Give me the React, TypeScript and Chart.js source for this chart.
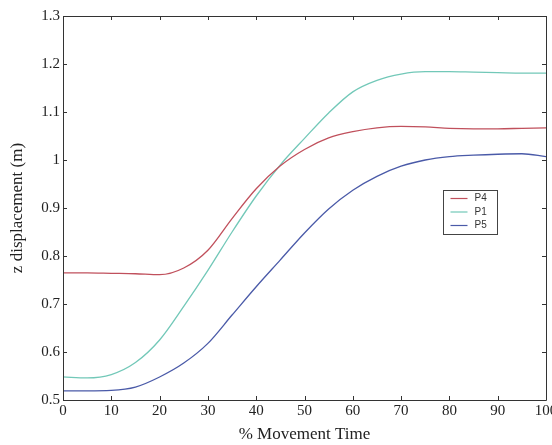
import React, { useEffect, useRef } from "react";
import { Chart, registerables } from "chart.js";

Chart.register(...registerables);

const timePct = [0, 5, 10, 15, 20, 25, 30, 35, 40, 45, 50, 55, 60, 65, 70, 75, 80, 85, 90, 95, 100];
const p4 = [0.765, 0.765, 0.764, 0.763, 0.761, 0.775, 0.812, 0.878, 0.94, 0.988, 1.022, 1.046, 1.059, 1.067, 1.07, 1.069, 1.066, 1.065, 1.065, 1.066, 1.067];
const p1 = [0.548, 0.546, 0.553, 0.578, 0.625, 0.695, 0.77, 0.85, 0.925, 0.99, 1.045, 1.098, 1.142, 1.166, 1.179, 1.184, 1.184, 1.183, 1.182, 1.181, 1.181];
const p5 = [0.519, 0.519, 0.52, 0.527, 0.548, 0.577, 0.618, 0.677, 0.736, 0.792, 0.848, 0.898, 0.937, 0.966, 0.987, 1.0, 1.007, 1.01, 1.012, 1.013, 1.007];
const seriesLabels = ["P4", "P1", "P5"];
const seriesColors = ["#c0505c", "#72c8b8", "#4a5aa8"];
const xTicks = [0, 10, 20, 30, 40, 50, 60, 70, 80, 90, 100];
const yTicks = [0.5, 0.6, 0.7, 0.8, 0.9, 1.0, 1.1, 1.2, 1.3];
const yTickLabels = ["0.5", "0.6", "0.7", "0.8", "0.9", "1", "1.1", "1.2", "1.3"];

const SERIF = "'Liberation Serif', 'Times New Roman', serif";

const boxPlugin = {
  id: "matlabBox",
  afterDatasetsDraw(chart: any) {
    const { ctx, chartArea: a, scales } = chart;
    const xs = scales.x;
    const ys = scales.y;
    ctx.save();
    ctx.strokeStyle = "#333";
    ctx.lineWidth = 1;
    ctx.beginPath();
    ctx.rect(Math.round(a.left) + 0.5, Math.round(a.top) + 0.5, Math.round(a.right - a.left), Math.round(a.bottom - a.top));
    ctx.stroke();
    const tl = 4;
    ctx.beginPath();
    xTicks.forEach((v) => {
      const px = Math.round(xs.getPixelForValue(v)) + 0.5;
      ctx.moveTo(px, a.bottom);
      ctx.lineTo(px, a.bottom - tl);
      ctx.moveTo(px, a.top);
      ctx.lineTo(px, a.top + tl);
    });
    yTicks.forEach((v) => {
      const py = Math.round(ys.getPixelForValue(v)) + 0.5;
      ctx.moveTo(a.left, py);
      ctx.lineTo(a.left + tl, py);
      ctx.moveTo(a.right, py);
      ctx.lineTo(a.right - tl, py);
    });
    ctx.stroke();

    // legend
    const lx = 443.5, ly = 190.5, lw = 54, lh = 44;
    ctx.fillStyle = "#fff";
    ctx.fillRect(lx, ly, lw, lh);
    ctx.strokeStyle = "#444";
    ctx.strokeRect(lx, ly, lw, lh);
    ctx.font = "10px 'Liberation Sans', Arial, sans-serif";
    ctx.textBaseline = "middle";
    chart.data.datasets.forEach((ds: any, i: number) => {
      const y = ly + 8 + i * 13.5;
      ctx.strokeStyle = ds.borderColor;
      ctx.lineWidth = 1.2;
      ctx.beginPath();
      ctx.moveTo(lx + 7, y);
      ctx.lineTo(lx + 24, y);
      ctx.stroke();
      ctx.fillStyle = "#333";
      ctx.fillText(ds.label, lx + 31, y);
    });
    ctx.restore();
  },
};

export default function App() {
  const ref = useRef<HTMLCanvasElement | null>(null);
  useEffect(() => {
    document.body.style.margin = "0";
    const mk = (vals: number[]) => timePct.map((t, i) => ({ x: t, y: vals[i] }));
    const all = [p4, p1, p5];
    const chart = new Chart(ref.current as HTMLCanvasElement, {
      type: "line",
      data: {
        datasets: all.map((vals, i) => ({
          label: seriesLabels[i],
          data: mk(vals),
          borderColor: seriesColors[i],
          backgroundColor: seriesColors[i],
          borderWidth: 1.3,
          pointRadius: 0,
          cubicInterpolationMode: "monotone" as const,
          fill: false,
        })),
      },
      options: {
        responsive: false,
        animation: false,
        layout: { padding: { top: 16, right: 6, left: 0, bottom: 0 } },
        plugins: { legend: { display: false }, tooltip: { enabled: false } },
        scales: {
          x: {
            type: "linear",
            min: 0,
            max: 100,
            afterBuildTicks: (s: any) => {
              s.ticks = xTicks.map((v) => ({ value: v }));
            },
            afterFit: (s: any) => {
              s.height = 45;
              s.paddingLeft = 0;
              s.paddingRight = 0;
            },
            grid: { display: false, drawTicks: false },
            border: { display: false },
            ticks: {
              color: "#222",
              font: { family: SERIF, size: 15 },
              padding: 2,
              maxRotation: 0,
              autoSkip: false,
            },
            title: {
              display: true,
              text: "% Movement Time",
              color: "#222",
              font: { family: SERIF, size: 17 },
              padding: { top: 0, bottom: 0 },
            },
          },
          y: {
            type: "linear",
            min: 0.5,
            max: 1.3,
            afterBuildTicks: (s: any) => {
              s.ticks = yTicks.map((v) => ({ value: v }));
            },
            afterFit: (s: any) => {
              s.width = 63;
              s.paddingTop = 0;
              s.paddingBottom = 0;
            },
            grid: { display: false, drawTicks: false },
            border: { display: false },
            ticks: {
              color: "#222",
              font: { family: SERIF, size: 15 },
              padding: 3,
              autoSkip: false,
              callback: (v: any) => {
                const idx = yTicks.findIndex((t) => Math.abs(t - v) < 1e-6);
                return idx >= 0 ? yTickLabels[idx] : "";
              },
            },
            title: {
              display: true,
              text: "z displacement (m)",
              color: "#222",
              font: { family: SERIF, size: 17 },
              padding: { top: 7, bottom: 0 },
            },
          },
        },
      },
      plugins: [boxPlugin],
    });
    return () => chart.destroy();
  }, []);
  return (
    <div style={{ position: "fixed", left: 0, top: 0, width: 552, height: 445, background: "#fff" }}>
      <canvas ref={ref} width={552} height={445} style={{ width: 552, height: 445, display: "block" }} />
    </div>
  );
}
